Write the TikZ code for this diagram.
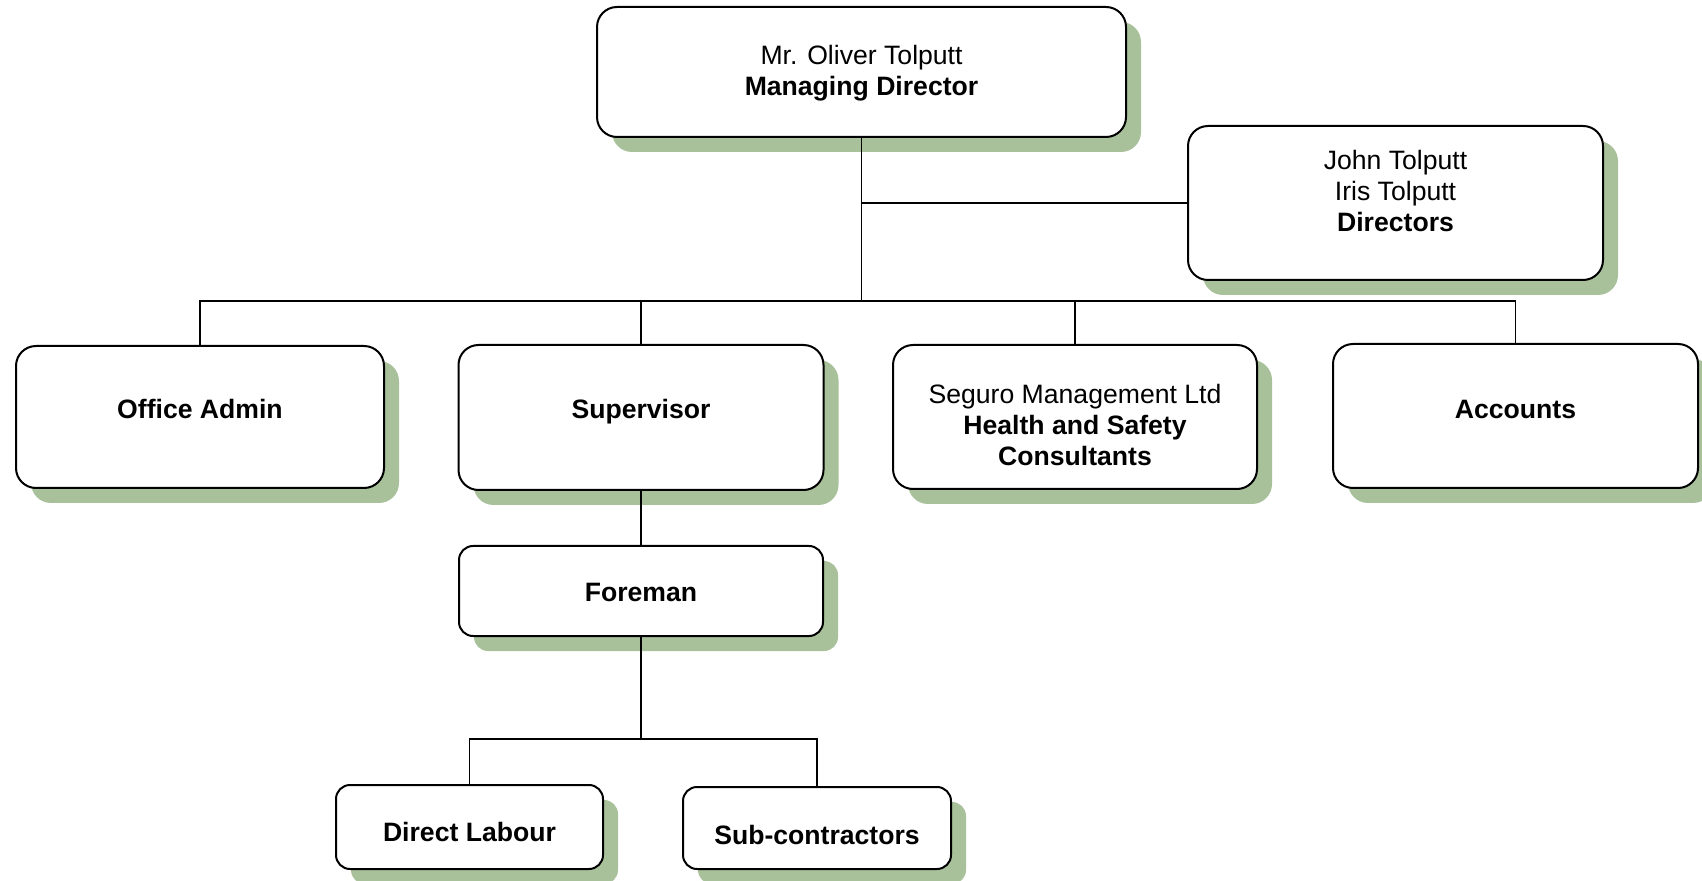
\documentclass[tikz,border=0pt]{standalone}
\usepackage{fontspec}
\setmainfont{Liberation Sans}
\usetikzlibrary{shadows}
\definecolor{shadowgreen}{RGB}{169,193,155}
\tikzset{
	orgbox/.style={draw,fill=white,line width=1pt,rounded corners=10pt,inner sep=0pt,
		general shadow={fill=shadowgreen,shadow xshift=7.5pt,shadow yshift=-7.5pt}},
	orgtext/.style={align=center,inner sep=0pt,font=\fontsize{13.3}{15.5}\selectfont},
	orgline/.style={line width=0.8pt}
}
\begin{document}
\begin{tikzpicture}[x=0.5pt,y=-0.5pt]
		\useasboundingbox (0,0) rectangle (1702,881);
		% boxes
		\node [orgbox,minimum width=264.5pt,minimum height=65pt] (md) at (861.5,72) {};
		\node [orgbox,minimum width=207.5pt,minimum height=77pt] (dir) at (1395.5,203) {};
		\node [orgbox,minimum width=184pt,minimum height=71pt] (oa) at (200,417) {};
		\node [orgbox,minimum width=182.5pt,minimum height=72.5pt] (sup) at (641,417.5) {};
		\node [orgbox,minimum width=182pt,minimum height=72pt] (hs) at (1075,417) {};
		\node [orgbox,minimum width=182.5pt,minimum height=72pt] (acc) at (1515.5,416) {};
		\node [orgbox,rounded corners=7pt,minimum width=182pt,minimum height=45pt] (fore) at (641,591) {};
		\node [orgbox,rounded corners=7pt,minimum width=133.5pt,minimum height=42pt] (dl) at (469.5,827) {};
		\node [orgbox,rounded corners=7pt,minimum width=134pt,minimum height=41pt] (sc) at (817,828) {};
		% texts
		\node [orgtext] (mdtext) at ([yshift=-0.6pt]md.center) {Mr. Oliver Tolputt\\\textbf{Managing Director}};
		\node [orgtext] (dirtext) at ([yshift=6pt]dir.center) {John Tolputt\\Iris Tolputt\\\textbf{Directors}};
		\node [orgtext] (oatext) at ([yshift=4pt]oa.center) {\textbf{Office Admin}};
		\node [orgtext] (suptext) at ([yshift=3pt]sup.center) {\textbf{Supervisor}};
		\node [orgtext] (hstext) at ([yshift=-3.8pt]hs.center) {Seguro Management Ltd\\\textbf{Health and Safety}\\\textbf{Consultants}};
		\node [orgtext] (acctext) at ([yshift=3.5pt]acc.center) {\textbf{Accounts}};
		\node [orgtext] (foretext) at ([yshift=-0.5pt]fore.center) {\textbf{Foreman}};
		\node [orgtext] (dltext) at ([yshift=-2.5pt]dl.center) {\textbf{Direct Labour}};
		\node [orgtext] (sctext) at ([yshift=-3.5pt]sc.center) {\textbf{Sub-contractors}};
		% connectors
		\coordinate (bus) at (861.5,301);
		\coordinate (fbus) at (641,739);
		\draw [orgline] (md.south) -- (bus);
		\draw [orgline] (dir.west) -- (dir.west -| md.south);
		\foreach \n in {oa,sup,hs,acc}
			\draw [orgline] (\n.north) |- (bus);
		\draw [orgline] (sup.south) -- (fore.north);
		\draw [orgline] (fore.south) -- (fbus);
		\foreach \n in {dl,sc}
			\draw [orgline] (\n.north) |- (fbus);
	\end{tikzpicture}
\end{document}
